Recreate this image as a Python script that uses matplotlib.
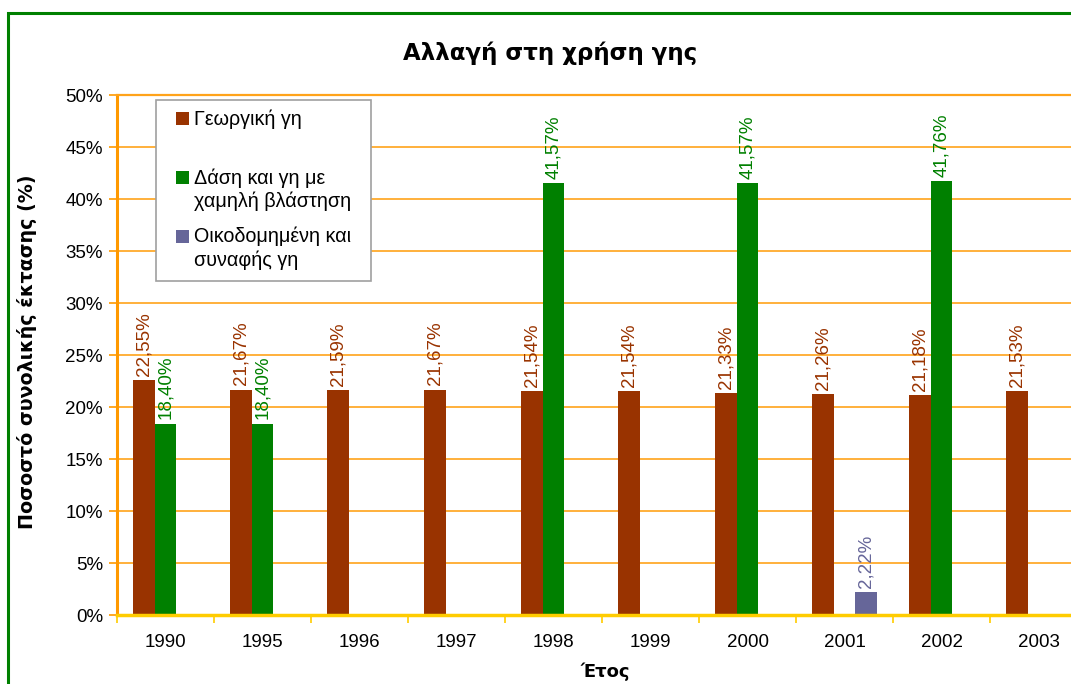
import matplotlib
matplotlib.use("Agg")
import matplotlib.pyplot as plt
from matplotlib.patches import Rectangle
import numpy as np

plt.rcParams['font.family'] = ['Liberation Sans', 'DejaVu Sans']

years = ["1990", "1995", "1996", "1997", "1998", "1999", "2000", "2001", "2002", "2003"]
agri = [22.55, 21.67, 21.59, 21.67, 21.54, 21.54, 21.33, 21.26, 21.18, 21.53]
forest = [18.40, 18.40, None, None, 41.57, None, 41.57, None, 41.76, None]
built = [None, None, None, None, None, None, None, 2.22, None, None]

series_names = ["Γεωργική γη", "Δάση και γη με\nχαμηλή βλάστηση", "Οικοδομημένη και\nσυναφής γη"]
colors = ["#993300", "#008000", "#666699"]

W, H = 1071, 684
fig = plt.figure(figsize=(W / 100, H / 100), dpi=100)


def fx(px):
    return px / W


def fy(py):
    return 1 - py / H


# outer chart border (only left/top visible in the reference)
fig.patches.append(Rectangle((fx(8), -0.2), 1.5, fy(13) + 0.2, transform=fig.transFigure,
                             fill=False, edgecolor="#008000", linewidth=2.2, zorder=0))

ax = fig.add_axes([fx(117), fy(615), 970 / W, 520 / H])

x = np.arange(len(years))
bw = 0.224
offsets = [-bw, 0, bw]

for vals, off, col, name in zip([agri, forest, built], offsets, colors, series_names):
    xs = [xi + off for xi, v in zip(x, vals) if v is not None]
    vs = [v for v in vals if v is not None]
    ax.bar(xs, vs, width=bw, color=col, label=name, zorder=3)
    for xi, v in zip(xs, vs):
        ax.annotate(f"{v:.2f}%".replace(".", ","), (xi, v), xytext=(0, 3),
                    textcoords="offset points", rotation=90, ha="center", va="bottom",
                    color=col, fontsize=13.5, zorder=4)

ax.set_xlim(-0.5, len(years) - 0.5)
ax.set_ylim(0, 50)
ax.set_yticks(np.arange(0, 51, 5))
ax.set_yticklabels([f"{v}%" for v in range(0, 51, 5)], fontsize=13.5)
ax.set_xticks(x)
ax.set_xticklabels(years, fontsize=13.5)
ax.set_xticks(np.arange(-0.5, len(years), 1), minor=True)
ax.tick_params(axis="x", which="major", length=0, pad=14)
ax.tick_params(axis="x", which="minor", length=6, color="#FFCC00", width=1.2, direction="out")
ax.tick_params(axis="y", length=6, color="#FF9900", width=1.2, direction="out", pad=4)

ax.grid(axis="y", color="#FFA31A", linewidth=1.2, zorder=0)
ax.set_axisbelow(True)
ax.spines["right"].set_visible(False)
ax.spines["top"].set_color("#FFA31A")
ax.spines["top"].set_linewidth(1.6)
ax.spines["left"].set_color("#FF9900")
ax.spines["left"].set_linewidth(2.2)
ax.spines["bottom"].set_color("#FFCC00")
ax.spines["bottom"].set_linewidth(2.5)
ax.spines["bottom"].set_zorder(5)

fig.text(fx(550), fy(53), "Αλλαγή στη χρήση γης", ha="center", va="center",
         fontsize=16.5, fontweight="bold", family="DejaVu Sans")
fig.text(fx(27), fy(352), "Ποσοστό συνολικής έκτασης (%)", ha="center", va="center",
         rotation=90, fontsize=13.7, fontweight="bold", family="DejaVu Sans")
fig.text(fx(605), fy(672), "Έτος", ha="center", va="center", fontsize=13,
         fontweight="bold", family="DejaVu Sans")

# legend box (drawn as in the original: handle aligned with first text line)
fig.patches.append(Rectangle((fx(155.5), fy(280.5)), (371 - 155.5) / W, (280.5 - 100.5) / H,
                             transform=fig.transFigure, facecolor="white",
                             edgecolor="#A0A0A0", linewidth=1.2, zorder=6))
first_line_y = [118.5, 177, 236]
for name, col, ly in zip(series_names, colors, first_line_y):
    fig.patches.append(Rectangle((fx(176), fy(ly + 6.5)), 13 / W, 13 / H,
                                 transform=fig.transFigure, facecolor=col,
                                 edgecolor="none", zorder=7))
    fig.text(fx(194), fy(ly - 9), name, ha="left", va="top", fontsize=14.2,
             linespacing=1.27, zorder=7)

fig.savefig("out.png", dpi=100)
